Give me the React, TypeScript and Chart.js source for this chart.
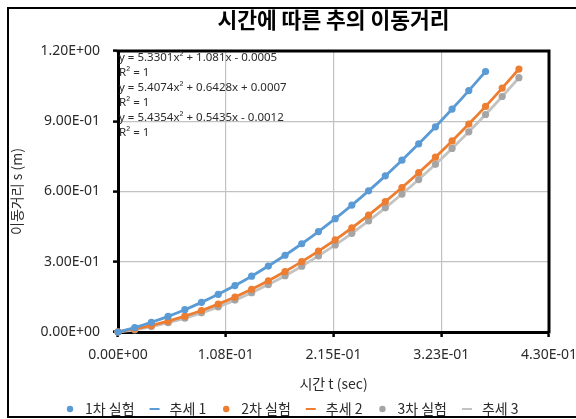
import React, { useEffect, useRef } from 'react';
import { Chart, registerables } from 'chart.js';

Chart.register(...registerables);

// ---- data ----
const times = [
  0, 0.0167, 0.0333, 0.05, 0.0667, 0.0833, 0.1, 0.1167, 0.1333, 0.15, 0.1667, 0.1833, 0.2,
  0.2167, 0.2333, 0.25, 0.2667, 0.2833, 0.3, 0.3167, 0.3333, 0.35, 0.3667, 0.3833, 0.4,
];
const run1 = [
  0, 0.019, 0.0415, 0.0669, 0.0953, 0.1266, 0.1609, 0.1982, 0.2384, 0.2816, 0.3277, 0.3768,
  0.4289, 0.4839, 0.5419, 0.6029, 0.6668, 0.7337, 0.8035, 0.8763, 0.9521, 1.0308, 1.1125,
];
const run2 = [
  0.0007, 0.0129, 0.0281, 0.0464, 0.0676, 0.0918, 0.1191, 0.1493, 0.1825, 0.2188, 0.258, 0.3003,
  0.3456, 0.3938, 0.4451, 0.4994, 0.5566, 0.6169, 0.6802, 0.7465, 0.8158, 0.8881, 0.9634, 1.0417,
  1.123,
];
const run3 = [
  0, 0.0094, 0.023, 0.0396, 0.0592, 0.0818, 0.1075, 0.1362, 0.1679, 0.2026, 0.2404, 0.2811,
  0.3249, 0.3717, 0.4216, 0.4744, 0.5302, 0.5891, 0.651, 0.716, 0.7839, 0.8549, 0.9288, 1.0058,
  1.0859,
];
const xTickValues = [0, 0.1075, 0.215, 0.3225, 0.43];
const xTickLabels = ['0.00E+00', '1.08E-01', '2.15E-01', '3.23E-01', '4.30E-01'];
const yTickValues = [0, 0.3, 0.6, 0.9, 1.2];
const yTickLabels = ['0.00E+00', '3.00E-01', '6.00E-01', '9.00E-01', '1.20E+00'];
const seriesNames = ['1차 실험', '2차 실험', '3차 실험'];
const trendNames = ['추세 1', '추세 2', '추세 3'];
const equations = [
  'y = 5.3301x² + 1.081x - 0.0005',
  'R² = 1',
  'y = 5.4074x² + 0.6428x + 0.0007',
  'R² = 1',
  'y = 5.4354x² + 0.5435x - 0.0012',
  'R² = 1',
];
const chartTitle = '시간에 따른 추의 이동거리';
const xTitle = '시간 t (sec)';
const yTitle = '이동거리 s (m)';

const markerColors = ['#5B9BD5', '#ED7D31', '#A5A5A5'];
const trendColors = ['#5B9BD5', '#ED7D31', '#C3C3C3'];
const FONT = '"Noto Sans", "Noto Sans CJK KR", sans-serif';
const KFONT = '"Noto Sans CJK KR", "Noto Sans", sans-serif';
const TEXT = '#2b2b2b';

const toPoints = (vals: number[]) => vals.map((v, i) => ({ x: times[i], y: v }));

const decor = {
  id: 'decor',
  beforeDatasetsDraw(chart: any) {
    const { ctx, chartArea: a } = chart;
    ctx.save();
    ctx.strokeStyle = '#000';
    ctx.lineWidth = 3;
    ctx.beginPath();
    ctx.moveTo(a.left - 1.5, a.top);
    ctx.lineTo(a.right, a.top);
    ctx.lineTo(a.right, a.bottom + 1.5);
    ctx.stroke();
    ctx.restore();
  },
  afterDraw(chart: any) {
    const { ctx, chartArea: a } = chart;
    ctx.save();
    // outer frame
    ctx.strokeStyle = '#000';
    ctx.lineWidth = 2;
    ctx.strokeRect(8, 8, 620, 409);
    // title
    ctx.fillStyle = '#000';
    ctx.font = `bold 21.5px ${KFONT}`;
    ctx.textAlign = 'center';
    ctx.textBaseline = 'middle';
    ctx.fillText(chartTitle, (a.left + a.right) / 2, 20);
    // trendline equations
    ctx.font = `11.5px ${FONT}`;
    ctx.textAlign = 'left';
    ctx.fillStyle = TEXT;
    equations.forEach((t, i) => ctx.fillText(t, a.left + 1, 58 + i * 15));
    // legend
    ctx.font = `14px ${KFONT}`;
    let x = 65;
    const y = 409;
    for (let s = 0; s < 3; s++) {
      ctx.fillStyle = markerColors[s];
      ctx.beginPath();
      ctx.arc(x + 5, y, 3.2, 0, Math.PI * 2);
      ctx.fill();
      x += 20;
      ctx.fillStyle = TEXT;
      ctx.fillText(seriesNames[s], x, y);
      x += ctx.measureText(seriesNames[s]).width + 15;
      ctx.strokeStyle = trendColors[s];
      ctx.lineWidth = 2;
      ctx.beginPath();
      ctx.moveTo(x, y);
      ctx.lineTo(x + 10, y);
      ctx.stroke();
      x += 20;
      ctx.fillStyle = TEXT;
      ctx.fillText(trendNames[s], x, y);
      x += ctx.measureText(trendNames[s]).width + 15;
    }
    ctx.restore();
  },
};

export default function App() {
  const ref = useRef<HTMLCanvasElement | null>(null);
  useEffect(() => {
    if (!ref.current) return;
    const runs = [run1, run2, run3];
    const datasets: any[] = [];
    runs.forEach((r, i) => {
      datasets.push({
        label: seriesNames[i],
        data: toPoints(r),
        showLine: false,
        pointRadius: 3.6,
        pointBackgroundColor: markerColors[i],
        pointBorderColor: markerColors[i],
        pointBorderWidth: 0,
        clip: false,
      });
      datasets.push({
        label: trendNames[i],
        data: toPoints(r),
        showLine: true,
        pointRadius: 0,
        borderColor: trendColors[i],
        borderWidth: 2.8,
        cubicInterpolationMode: 'monotone',
        clip: false,
      });
    });
    const chart = new Chart(ref.current, {
      type: 'scatter',
      data: { datasets },
      plugins: [decor],
      options: {
        responsive: false,
        animation: false,
        layout: { padding: { left: 8, top: 51, right: 51, bottom: 26 } },
        plugins: {
          legend: { display: false },
          title: { display: false },
          tooltip: { enabled: false },
        },
        scales: {
          x: {
            type: 'linear',
            min: 0,
            max: 0.43,
            afterBuildTicks: (s: any) => {
              s.ticks = xTickValues.map((v) => ({ value: v }));
            },
            afterFit: (s: any) => {
              s.height = 61;
            },
            ticks: {
              padding: 10,
              autoSkip: false,
              maxRotation: 0,
              color: TEXT,
              font: { family: FONT, size: 14 },
              callback: (_v: any, i: number) => xTickLabels[i],
            },
            grid: {
              color: '#C2C2C2',
              lineWidth: 1.2,
              tickLength: 5,
              tickColor: '#000',
              tickWidth: 2.5,
            },
            border: { color: '#000', width: 3 },
            title: {
              display: true,
              text: xTitle,
              color: TEXT,
              font: { family: KFONT, size: 14 },
              padding: { top: 0, bottom: 1 },
            },
          },
          y: {
            type: 'linear',
            min: 0,
            max: 1.2,
            afterBuildTicks: (s: any) => {
              s.ticks = yTickValues.map((v) => ({ value: v }));
            },
            afterFit: (s: any) => {
              s.width = 110;
            },
            ticks: {
              padding: 13,
              color: TEXT,
              font: { family: FONT, size: 14 },
              callback: (_v: any, i: number) => yTickLabels[i],
            },
            grid: {
              color: '#C2C2C2',
              lineWidth: 1.2,
              tickLength: 5,
              tickColor: '#000',
              tickWidth: 2.5,
            },
            border: { color: '#000', width: 3 },
            title: {
              display: true,
              text: yTitle,
              color: TEXT,
              font: { family: KFONT, size: 14 },
              padding: { top: 0, bottom: 0 },
            },
          },
        },
      } as any,
    });
    return () => chart.destroy();
  }, []);
  return (
    <div
      style={{
        position: 'fixed',
        left: 0,
        top: 0,
        width: 576,
        height: 419,
        overflow: 'hidden',
        background: '#fff',
      }}
    >
      <canvas ref={ref} width={600} height={419} style={{ display: 'block' }} />
    </div>
  );
}
